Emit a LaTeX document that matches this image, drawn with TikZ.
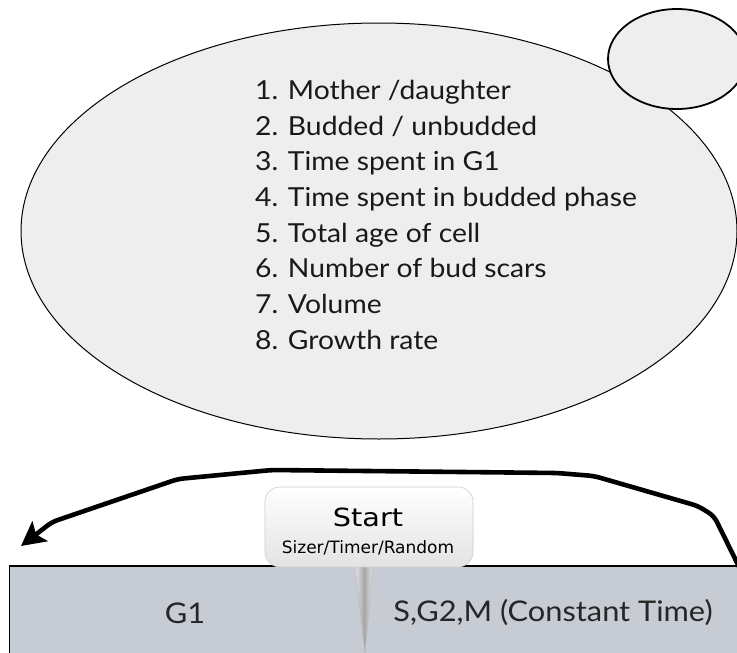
\documentclass[tikz,border=0pt]{standalone}
\usepackage{fontspec}
\setmainfont{Lato}[FakeStretch=1.08]
\newfontfamily\calloutfont{DejaVu Sans}
\newfontfamily\startfont[FakeStretch=1.15]{DejaVu Sans}
\usetikzlibrary{arrows.meta,shapes.geometric}
\definecolor{cellfill}{HTML}{EEEEEE}
\definecolor{barfill}{HTML}{C6CBD4}
\tikzset{
  cell/.style={ellipse, draw=black, fill=cellfill, inner sep=0pt},
  phase/.style={font=\fontsize{28.5}{32}\selectfont, inner sep=0pt, text=black!85},
  cycle arrow/.style={line width=4.6pt, rounded corners=6pt, -{Stealth[length=24pt,width=25pt,inset=5pt]}},
  callout/.style={draw=gray!40, line width=0.6pt, rounded corners=15pt, top color=white, bottom color=gray!22, minimum width=208pt, minimum height=80pt, inner sep=0pt}
}
\begin{document}
\begin{tikzpicture}[x=1pt,y=-1pt]
\useasboundingbox (0,0) rectangle (737,653);
\clip (0,0) rectangle (737,653);
\fill[white] (0,0) rectangle (737,653);

% cell
\node[cell, line width=1pt, minimum width=716pt, minimum height=416pt] (mother) at (379,231) {};
\node[cell, line width=1.8pt, minimum width=138pt, minimum height=100pt] (bud) at (677,59) {};
\node[anchor=north west, align=left, inner sep=0pt, font=\fontsize{26.2}{35.7}\selectfont, text=black!90] (traits) at (255,80)
{1. Mother /daughter\\
2. Budded / unbudded\\
3. Time spent in G1\\
4. Time spent in budded phase\\
5. Total age of cell\\
6. Number of bud scars\\
7. Volume\\
8. Growth rate};

% phase bar
\fill[barfill] (9.5,566) rectangle (760,680);
\draw[line width=1.5pt] (9.5,680) -- (9.5,566) -- (760,566);
\node[phase] (g1) at (185,613) {G1};
\node[phase] (sg2m) at (553,613) {S,G2,M (Constant Time)};

% cycle arrow
\coordinate (aS) at (748,585);
\coordinate (aE) at (21,546);
\draw[cycle arrow] (aS) -- (714,516) -- (698,506) -- (594,476) -- (557,473) -- (272,470) -- (178,479) -- (52,522) -- (aE);

% start callout
\coordinate (ptip) at (365,653);
\shade[left color=gray!20, right color=gray!20, middle color=gray!70] (355,566) -- (373,566) -- (ptip) -- cycle;
\draw[gray!55, line width=0.5pt] (355,566) -- (ptip) -- (373,566);
\node[callout] (startbox) at (369,527) {};
\node[font=\startfont\fontsize{25}{28}\selectfont, inner sep=0pt] (startlbl) at (368,517) {Start};
\node[font=\calloutfont\fontsize{17}{20}\selectfont, inner sep=0pt] (rulelbl) at (368,548) {Sizer/Timer/Random};
\end{tikzpicture}
\end{document}
